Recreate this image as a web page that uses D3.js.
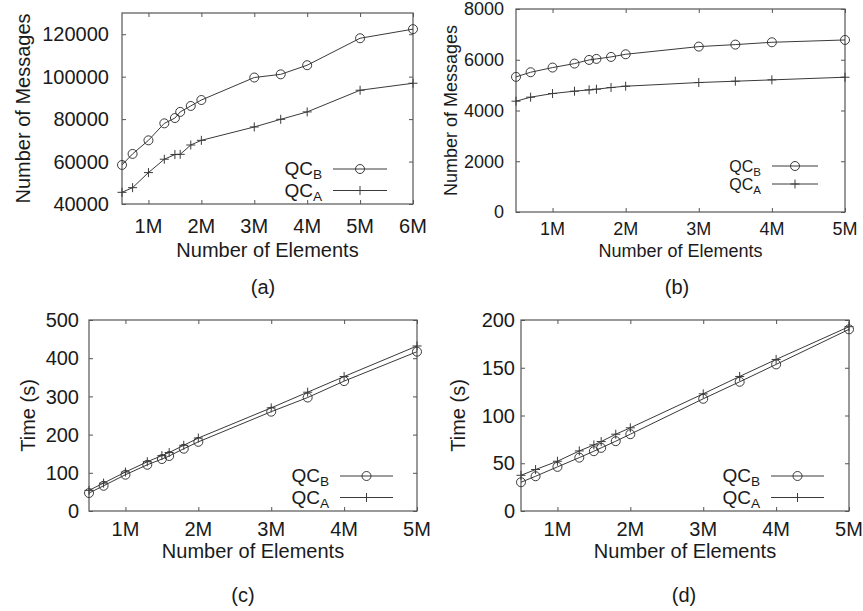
<!DOCTYPE html>
<html>
<head>
<meta charset="utf-8">
<script src="https://cdn.jsdelivr.net/npm/d3@7"></script>
<style>
  body { margin: 0; background: #fff; }
  svg { display: block; font-family: "Liberation Sans", Arial, sans-serif; }
</style>
</head>
<body>
<div id="chart"></div>
<script>
// x values, in millions of elements
const elements6 = [0.5, 0.7, 1.0, 1.3, 1.5, 1.6, 1.8, 2.0, 3.0, 3.5, 4.0, 5.0, 6.0];
const elements5 = [0.5, 0.7, 1.0, 1.3, 1.5, 1.6, 1.8, 2.0, 3.0, 3.5, 4.0, 5.0];

// (a) number of messages
const msgsA_qcB = [58400, 63600, 70000, 78000, 80500, 83400, 86200, 89000, 99600, 101100, 105400, 118100, 122400];
const msgsA_qcA = [45500, 47700, 54800, 61100, 63300, 63400, 67800, 70000, 76300, 79900, 83400, 93600, 96900];
// (b) number of messages
const msgsB_qcB = [5325, 5508, 5692, 5849, 5993, 6033, 6111, 6216, 6518, 6597, 6689, 6780];
const msgsB_qcA = [4367, 4525, 4669, 4761, 4813, 4839, 4905, 4957, 5102, 5154, 5207, 5311];
// (c) time
const timeC_qcB = [47, 66, 95, 121, 136, 144, 163, 181, 260, 297, 340, 417];
const timeC_qcA = [54, 73, 102, 129, 145, 153, 172, 191, 270, 311, 352, 432];
// (d) time
const timeD_qcB = [30.1, 36.4, 46.2, 55.9, 62.6, 66.1, 73.1, 80.4, 117.5, 135.3, 153.5, 190.2];
const timeD_qcA = [37.4, 43.4, 52.1, 62.9, 69.2, 72.7, 80.4, 87.1, 122.7, 140.9, 158.7, 193];

// tick values
const xTicks6 = [1, 2, 3, 4, 5, 6];
const xTicks5 = [1, 2, 3, 4, 5];
const yTicksA = [40000, 60000, 80000, 100000, 120000];
const yTicksB = [0, 2000, 4000, 6000, 8000];
const yTicksC = [0, 100, 200, 300, 400, 500];
const yTicksD = [0, 50, 100, 150, 200];

const xLabel = "Number of Elements";

const panels = [
  { cap: "(a)", box: [122, 13, 413, 204], xDom: [0.5, 6], yDom: [40000, 130000],
    xs: elements6, qcB: msgsA_qcB, qcA: msgsA_qcA, xTicks: xTicks6, yTicks: yTicksA,
    yLabel: "Number of Messages", fs: 20, lfs: 19, yGap: 13, yLabelX: 23, xTickDy: 29, xLabelY: 257,
    capX: 263, capY: 294, legB: 35, legA: 13.5, legX: [80, 26] },
  { cap: "(b)", box: [516, 9, 845, 212], xDom: [0.5, 5], yDom: [0, 8000],
    xs: elements5, qcB: msgsB_qcB, qcA: msgsB_qcA, xTicks: xTicks5, yTicks: yTicksB,
    yLabel: "Number of Messages", fs: 18, lfs: 16, yGap: 12, yLabelX: 451, xTickDy: 23, xLabelY: 257,
    capX: 677, capY: 294, legB: 46, legA: 28, legX: [73, 27] },
  { cap: "(c)", box: [89, 320, 417, 511], xDom: [0.5, 5], yDom: [0, 500],
    xs: elements5, qcB: timeC_qcB, qcA: timeC_qcA, xTicks: xTicks5, yTicks: yTicksC,
    yLabel: "Time (s)", fs: 20, lfs: 19, yGap: 10, yLabelX: 28, xTickDy: 25, xLabelY: 558,
    capX: 243, capY: 602, legB: 35, legA: 13.5, legX: [77, 24] },
  { cap: "(d)", box: [521, 320, 849, 511], xDom: [0.5, 5], yDom: [0, 200],
    xs: elements5, qcB: timeD_qcB, qcA: timeD_qcA, xTicks: xTicks5, yTicks: yTicksD,
    yLabel: "Time (s)", fs: 20, lfs: 19, yGap: 6, yLabelX: 458, xTickDy: 25, xLabelY: 558,
    capX: 684, capY: 602, legB: 35, legA: 13.5, legX: [78, 25] }
];

const width = 863, height = 611;
const ink = "#1a1a1a", lineCol = "#3a3a3a", frameCol = "#555";

const svg = d3.select("#chart").append("svg")
  .attr("width", width).attr("height", height);

// circle and plus markers
function drawMarker(g, kind, x, y) {
  if (kind === "circle") {
    g.append("circle").attr("cx", x).attr("cy", y).attr("r", 4.5)
      .attr("fill", "none").attr("stroke", lineCol).attr("stroke-width", 1);
  } else {
    g.append("path").attr("d", `M${x - 4.5},${y}H${x + 4.5}M${x},${y - 4.5}V${y + 4.5}`)
      .attr("stroke", lineCol).attr("stroke-width", 1);
  }
}

panels.forEach((p) => {
  const [x0, y0, x1, y1] = p.box;
  const x = d3.scaleLinear().domain(p.xDom).range([x0, x1]);
  const y = d3.scaleLinear().domain(p.yDom).range([y1, y0]);
  const g = svg.append("g");

  // ticks on all four sides, pointing inward
  const tk = 4;
  const axes = [
    d3.axisBottom(x).tickValues(p.xTicks).tickSizeInner(-tk).tickSizeOuter(0).tickFormat(""),
    d3.axisTop(x).tickValues(p.xTicks).tickSizeInner(-tk).tickSizeOuter(0).tickFormat(""),
    d3.axisLeft(y).tickValues(p.yTicks).tickSizeInner(-tk).tickSizeOuter(0).tickFormat(""),
    d3.axisRight(y).tickValues(p.yTicks).tickSizeInner(-tk).tickSizeOuter(0).tickFormat("")
  ];
  const offs = [[0, y1], [0, y0], [x0, 0], [x1, 0]];
  axes.forEach((ax, i) => {
    const a = g.append("g").attr("transform", `translate(${offs[i][0]},${offs[i][1]})`).call(ax);
    a.select(".domain").remove();
    a.selectAll("line").attr("stroke", frameCol);
  });

  g.append("rect").attr("x", x0).attr("y", y0)
    .attr("width", x1 - x0).attr("height", y1 - y0)
    .attr("fill", "none").attr("stroke", frameCol).attr("stroke-width", 1.2);

  // tick labels
  g.selectAll(".xl").data(p.xTicks).enter().append("text")
    .attr("x", (d) => x(d)).attr("y", y1 + p.xTickDy)
    .attr("text-anchor", "middle").attr("font-size", p.fs).attr("fill", ink)
    .text((d) => d + "M");
  g.selectAll(".yl").data(p.yTicks).enter().append("text")
    .attr("x", x0 - p.yGap).attr("y", (d) => y(d)).attr("dy", "0.36em")
    .attr("text-anchor", "end").attr("font-size", p.fs).attr("fill", ink)
    .text((d) => d);

  // axis titles and caption
  g.append("text").attr("x", (x0 + x1) / 2).attr("y", p.xLabelY)
    .attr("text-anchor", "middle").attr("font-size", p.fs).attr("fill", ink).text(xLabel);
  g.append("text")
    .attr("transform", `translate(${p.yLabelX},${(y0 + y1) / 2}) rotate(-90)`)
    .attr("text-anchor", "middle").attr("dominant-baseline", "central")
    .attr("font-size", p.fs).attr("fill", ink).text(p.yLabel);
  g.append("text").attr("x", p.capX).attr("y", p.capY)
    .attr("text-anchor", "middle").attr("font-size", 20).attr("fill", ink).text(p.cap);

  // series
  const series = [
    { vals: p.qcB, kind: "circle", sub: "B", ly: y1 - p.legB },
    { vals: p.qcA, kind: "plus", sub: "A", ly: y1 - p.legA }
  ];
  const line = d3.line().x((d) => x(d[0])).y((d) => y(d[1]));
  series.forEach((s) => {
    const pts = p.xs.map((v, i) => [v, s.vals[i]]);
    g.append("path").datum(pts).attr("d", line)
      .attr("fill", "none").attr("stroke", lineCol).attr("stroke-width", 1);
    pts.forEach((d) => drawMarker(g, s.kind, x(d[0]), y(d[1])));

    // legend entry
    const lx0 = x1 - p.legX[0], lx1 = x1 - p.legX[1];
    g.append("line").attr("x1", lx0).attr("x2", lx1).attr("y1", s.ly).attr("y2", s.ly)
      .attr("stroke", lineCol).attr("stroke-width", 1);
    drawMarker(g, s.kind, (lx0 + lx1) / 2, s.ly);
    const t = g.append("text").attr("x", lx0 - 11).attr("y", s.ly + 6)
      .attr("text-anchor", "end").attr("font-size", p.lfs).attr("fill", ink);
    t.append("tspan").text("QC");
    t.append("tspan").attr("font-size", p.lfs * 0.72).attr("dy", 4).text(s.sub);
  });
});
</script>
</body>
</html>
